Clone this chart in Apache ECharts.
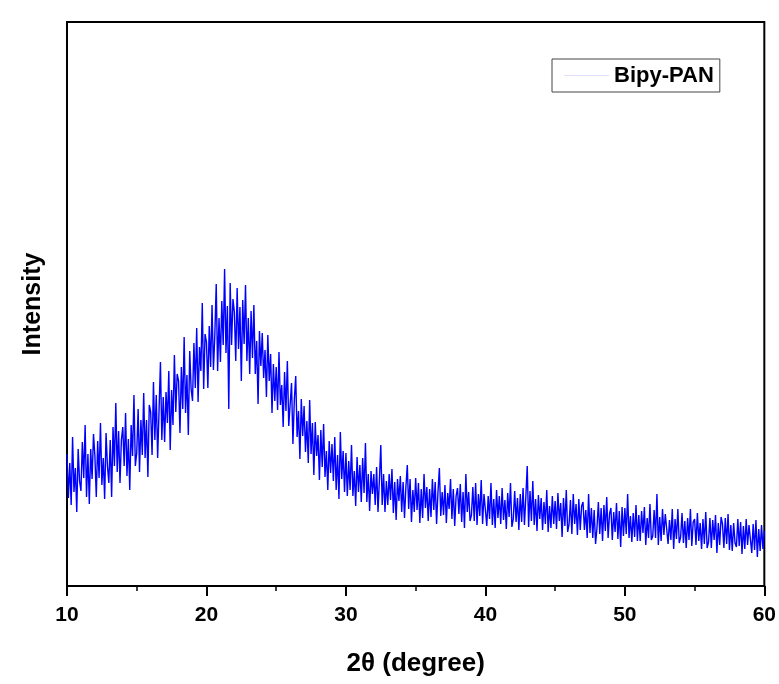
<!DOCTYPE html>
<html>
<head>
<meta charset="utf-8">
<script src="https://cdn.jsdelivr.net/npm/echarts@6/dist/echarts.min.js"></script>
<style>html,body{margin:0;padding:0;background:#fff;}#c{width:779px;height:684px;}</style>
</head>
<body>
<div id="c"></div>
<script>
// Scan definition (2θ, degrees)
const angleStart = 10;
const angleStep = 0.1;
const xTicks = [10, 20, 30, 40, 50, 60];
const seriesName = 'Bipy-PAN';
// Intensity (arbitrary units), one row per degree, 0.1° apart
const intensity = [
  132,88,123,81,149,94,118,74,137,105,
  95,144,108,161,89,132,82,137,107,152,
  130,89,145,108,163,101,128,87,153,120,
  103,146,89,159,120,183,114,155,103,146,
  159,120,173,110,147,96,161,130,191,120,
  133,177,114,166,131,193,128,166,109,181,
  174,131,204,146,191,128,175,224,146,189,
  144,194,163,215,136,196,161,231,174,212,
  205,153,219,177,249,173,211,151,235,197,
  185,243,198,258,184,239,215,283,197,252,
  244,198,260,219,281,216,251,302,215,268,
  224,285,241,317,233,280,177,303,241,287,
  274,225,298,237,279,205,286,242,301,225,
  268,212,275,228,281,212,245,182,255,220,
  253,208,236,189,251,205,232,173,222,185,
  219,176,234,181,201,159,214,175,225,160,
  161,203,142,186,210,149,175,127,187,150,
  180,134,165,123,186,132,163,111,164,130,
  151,106,156,119,162,109,135,96,145,113,
  142,105,149,96,131,87,154,107,135,94,
  133,90,125,96,141,90,115,80,129,94,
  121,84,128,93,143,84,112,75,115,92,
  112,81,119,74,106,141,81,112,74,105,
  81,112,86,117,73,104,66,107,85,110,
  74,104,68,99,121,77,107,64,96,74,
  108,76,103,63,97,68,112,78,99,65,
  97,69,107,76,104,62,94,118,70,94,
  71,101,63,93,77,107,67,97,60,90,
  98,72,102,64,94,58,112,74,94,65,
  71,99,65,103,61,92,70,106,62,92,
  94,60,90,67,103,61,87,58,96,68,
  90,62,98,66,86,57,93,69,103,59,
  67,95,64,88,56,92,64,98,61,89,
  120,59,95,65,105,61,87,55,91,67,
  88,56,84,62,96,54,80,58,90,62,
  85,57,93,65,83,49,88,60,96,54,
  62,86,52,92,62,82,51,87,56,80,
  84,56,76,48,92,53,78,48,76,42,
  58,84,52,78,45,81,55,89,48,72,
  78,46,74,54,83,47,75,39,79,50,
  78,52,92,48,70,44,73,49,81,45,
  71,45,75,53,79,41,68,48,82,46,
  50,76,48,92,41,69,45,77,51,72,
  72,42,66,46,77,37,67,47,77,43,
  49,73,43,65,38,68,46,77,40,64,
  67,41,73,45,63,37,67,42,74,38,
  44,68,38,66,46,71,33,63,41,69,
  62,38,68,42,72,36,61,35,63,43,
  39,67,40,64,32,60,37,67,41,61,
  59,33,62,36,66,29,57,35,61,37,
  55
];

const data = intensity.map((v, i) => [+(angleStart + i * angleStep).toFixed(1), v]);

const chart = echarts.init(document.getElementById('c'), null, {renderer: 'canvas'});
const font = 'Liberation Sans, Arial, sans-serif';
chart.setOption({
  animation: false,
  backgroundColor: '#fff',
  grid: {left: 67, right: 11, top: 22, bottom: 98, show: true, borderColor: '#000', borderWidth: 2, backgroundColor: 'transparent'},
  legend: {
    data: [seriesName],
    left: 552, top: 59,
    padding: [5, 6, 5, 12],
    icon: 'rect',
    itemWidth: 45, itemHeight: 1, itemGap: 7,
    itemStyle: {color: '#e0e0ff'},
    borderColor: '#444', borderWidth: 1,
    textStyle: {fontFamily: font, fontWeight: 'bold', fontSize: 22, color: '#000', lineHeight: 23}
  },
  xAxis: {
    type: 'value', min: xTicks[0], max: xTicks[xTicks.length - 1], interval: 10,
    name: '2θ (degree)', nameLocation: 'middle', nameGap: 65,
    nameTextStyle: {fontFamily: font, fontWeight: 'bold', fontSize: 26, color: '#000'},
    axisLine: {show: true, lineStyle: {color: '#000', width: 2}},
    axisTick: {show: true, inside: false, length: 10, lineStyle: {color: '#000', width: 2}},
    minorTick: {show: true, splitNumber: 2, length: 5, lineStyle: {color: '#000', width: 1.5}},
    splitLine: {show: false},
    axisLabel: {fontFamily: font, fontWeight: 'bold', fontSize: 21, color: '#000', margin: 19}
  },
  yAxis: {
    type: 'value', min: 0, max: 564,
    name: 'Intensity', nameLocation: 'middle', nameGap: 21,
    nameTextStyle: {fontFamily: font, fontWeight: 'bold', fontSize: 25, color: '#000'},
    axisLine: {show: true, lineStyle: {color: '#000', width: 2}},
    axisTick: {show: false},
    axisLabel: {show: false},
    splitLine: {show: false}
  },
  series: [{
    name: seriesName,
    type: 'line',
    data: data,
    showSymbol: false,
    symbol: 'none',
    sampling: null,
    lineStyle: {color: '#0000ff', width: 1.4},
    itemStyle: {color: '#0000ff'}
  }]
});
</script>
</body>
</html>
